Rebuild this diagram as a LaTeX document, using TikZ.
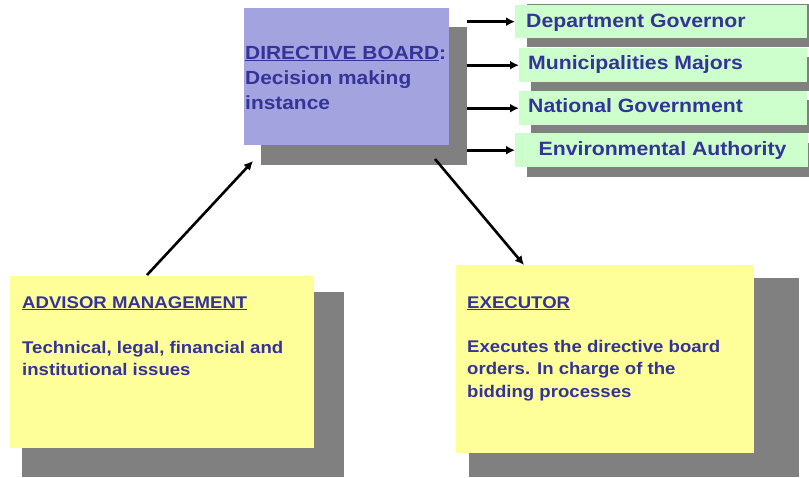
\documentclass[tikz,border=0pt]{standalone}
\usepackage{fontspec}
\setmainfont{Liberation Sans}[FakeStretch=1.1]
\usetikzlibrary{arrows.meta}
\definecolor{txtblue}{HTML}{333399}
\definecolor{purplebox}{HTML}{A3A3DF}
\definecolor{greenbox}{HTML}{CCFFCC}
\definecolor{yellowbox}{HTML}{FFFF99}
\definecolor{shadowgray}{HTML}{808080}
\begin{document}
\begin{tikzpicture}[x=1pt,y=-1pt,
  shadowbox/.style={fill=shadowgray, draw=none, inner sep=0pt, anchor=north west},
  boxfill/.style={draw=none, inner sep=0pt, anchor=north west},
  lbl/.style={anchor=base west, inner sep=0pt, text=txtblue, font=\fontsize{19}{25}\selectfont\bfseries},
  rlbl/.style={anchor=base west, inner sep=0pt, text=txtblue, font=\fontsize{19.3}{25}\selectfont\bfseries},
  ylbl/.style={anchor=base west, inner sep=0pt, text=txtblue, font=\fontsize{16.9}{22}\selectfont\bfseries, align=left},
  arr/.style={line width=2.6pt, -{Latex[length=9pt,width=9pt]}}]
\useasboundingbox (0,0) rectangle (809,477);
% directive board
\node[shadowbox, minimum width=206pt, minimum height=138pt] (dbs) at (261,27) {};
\node[boxfill, fill=purplebox, minimum width=205pt, minimum height=137pt] (db) at (244,8) {};
\node[lbl] (dbt1) at (245,59) {\underline{DIRECTIVE BOARD}:};
\node[lbl] (dbt2) at (245,84) {Decision making};
\node[lbl] (dbt3) at (245,109) {instance};
% right boxes
\node[shadowbox, minimum width=282pt, minimum height=43pt] (r1s) at (527,4) {};
\node[boxfill, fill=greenbox, minimum width=292pt, minimum height=33pt] (r1) at (515,5) {};
\node[rlbl] (r1t) at (526,27) {Department Governor};
\node[shadowbox, minimum width=278pt, minimum height=34pt] (r2s) at (531,57) {};
\node[boxfill, fill=greenbox, minimum width=288pt, minimum height=34pt] (r2) at (519,48) {};
\node[rlbl] (r2t) at (528,69) {Municipalities Majors};
\node[shadowbox, minimum width=278pt, minimum height=33pt] (r3s) at (531,100) {};
\node[boxfill, fill=greenbox, minimum width=288pt, minimum height=34pt] (r3) at (519,91) {};
\node[rlbl] (r3t) at (528,112) {National Government};
\node[shadowbox, minimum width=282pt, minimum height=34pt] (r4s) at (527,143) {};
\node[boxfill, fill=greenbox, minimum width=293pt, minimum height=34pt] (r4) at (515,133) {};
\node[rlbl] (r4t) at (538.5,155) {Environmental Authority};
% advisor
\node[shadowbox, minimum width=322pt, minimum height=185pt] (ads) at (22,292) {};
\node[boxfill, fill=yellowbox, minimum width=304pt, minimum height=172pt] (ad) at (10,276) {};
\node[ylbl] (adt1) at (22,308) {\underline{ADVISOR MANAGEMENT}};
\node[ylbl] (adt2) at (22,353) {Technical, legal, financial and};
\node[ylbl] (adt3) at (22,375) {institutional issues};
% executor
\node[shadowbox, minimum width=330pt, minimum height=199pt] (exs) at (469,278) {};
\node[boxfill, fill=yellowbox, minimum width=298pt, minimum height=188pt] (ex) at (456,265) {};
\node[ylbl] (ext1) at (467,308) {\underline{EXECUTOR}};
\node[ylbl] (ext2) at (467,352) {Executes the directive board};
\node[ylbl] (ext3) at (467,374) {orders. In charge of the};
\node[ylbl] (ext4) at (467,397) {bidding processes};
% connectors
\draw[arr] (dbs.east |- r1.west) -- (r1.west);
\draw[arr] (dbs.east |- r2.west) -- (r2.west);
\draw[arr] (dbs.east |- r3.west) -- (r3.west);
\draw[arr] (dbs.east |- r4.west) -- (r4.west);
\coordinate (adtop) at (147,275);
\coordinate (dbin) at (253,161);
\draw[arr] (adtop) -- (dbin);
\coordinate (dbout) at (435,159);
\coordinate (extop) at (524,265);
\draw[arr] (dbout) -- (extop);
\end{tikzpicture}
\end{document}
